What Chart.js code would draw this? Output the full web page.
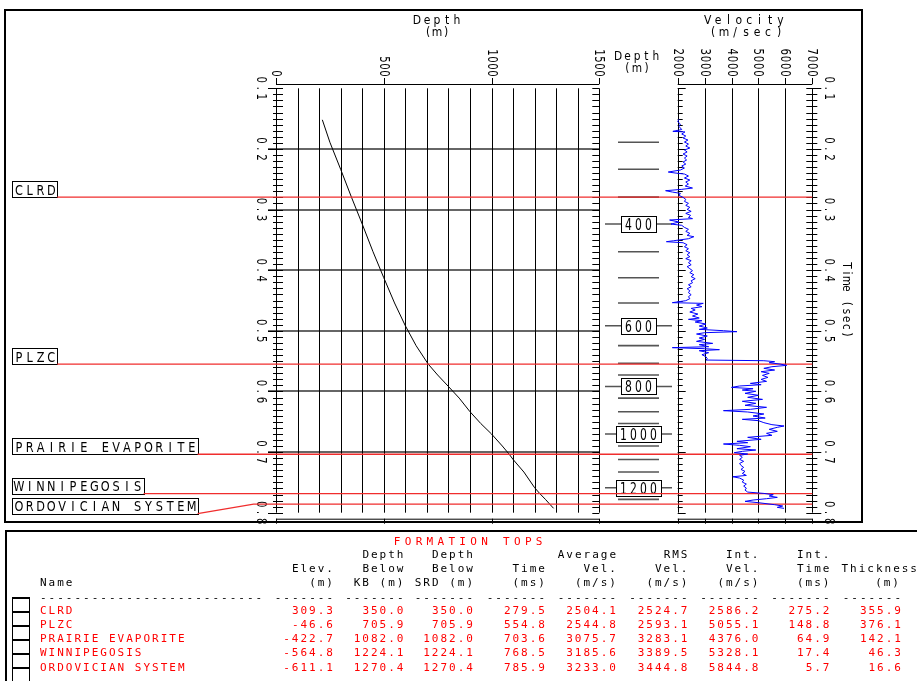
<!DOCTYPE html>
<html>
<head>
<meta charset="utf-8">
<script src="https://cdn.jsdelivr.net/npm/chart.js@4.4.0/dist/chart.umd.min.js"></script>
<style>
html, body { margin: 0; padding: 0; background: #fff; }
#wrap { position: relative; width: 917px; height: 681px; overflow: hidden; background: #fff; }
#wrap canvas { position: absolute; left: 0; top: 0; }
.t { position: absolute; font-family: "DejaVu Sans Mono", monospace; font-size: 11px; line-height: 12px; white-space: pre; }
.box { position: absolute; box-sizing: border-box; border: 1px solid #000; border-top-width: 2px; }
.rule { position: absolute; background: #000; }
</style>
</head>
<body>
<div id="wrap">
  <canvas id="cDepth" width="917" height="681"></canvas>
  <canvas id="cMarks" width="917" height="681"></canvas>
  <canvas id="cVel" width="917" height="681"></canvas>
</div>
<script>
// ---------------- data ----------------
// formation tops
const formationNames = ['CLRD', 'PLZC', 'PRAIRIE EVAPORITE', 'WINNIPEGOSIS', 'ORDOVICIAN SYSTEM'];
const formationElev = [309.3, -46.6, -422.7, -564.8, -611.1];
const formationDepthKB = [350.0, 705.9, 1082.0, 1224.1, 1270.4];
const formationDepthSRD = [350.0, 705.9, 1082.0, 1224.1, 1270.4];
const formationTimeMs = [279.5, 554.8, 703.6, 768.5, 785.9];
const formationAvgVel = [2504.1, 2544.8, 3075.7, 3185.6, 3233.0];
const formationRmsVel = [2524.7, 2593.1, 3283.1, 3389.5, 3444.8];
const formationIntVel = [2586.2, 5055.1, 4376.0, 5328.1, 5844.8];
const formationIntTime = [275.2, 148.8, 64.9, 17.4, 5.7];
const formationThickness = [355.9, 376.1, 142.1, 46.3, 16.6];

// time-depth curve (two-way time in s, depth in m)
const tdTimeSec = [0.1520, 0.1890, 0.2336, 0.2795, 0.3238, 0.3695, 0.4124, 0.4541, 0.4916, 0.5245,
  0.5548, 0.5729, 0.5918, 0.6110, 0.6334, 0.6529, 0.6702, 0.6900, 0.7036, 0.7122,
  0.7329, 0.7588, 0.7685, 0.7780, 0.7859, 0.7928];
const tdDepthM = [215, 250, 300, 350, 400, 450, 500, 550, 600, 650,
  706, 750, 800, 850, 900, 950, 1000, 1050, 1082, 1100,
  1150, 1200, 1224, 1250, 1270, 1288];

// depth marks on the time scale
const markDepthM = [250, 300, 350, 400, 450, 500, 550, 600, 650, 700, 750, 800, 850, 900, 950, 1000, 1050, 1100, 1150, 1200, 1250];
const markTimeSec = [0.1890, 0.2336, 0.2795, 0.3238, 0.3695, 0.4124, 0.4541, 0.4916, 0.5245, 0.5535, 0.5729,
  0.5918, 0.6110, 0.6334, 0.6529, 0.6702, 0.6900, 0.7122, 0.7329, 0.7588, 0.7780];
const labeledMarkDepthM = [400, 600, 800, 1000, 1200];

// interval velocity log (time in ms, velocity in m/s)
const velTimeMs = [151, 155, 159, 163, 168, 171, 172, 175.4, 178.7, 182, 185.3, 188.6, 192, 195.2, 198.5, 201.8, 205, 208.4, 211.7, 215,
  218.3, 221.6, 225, 228.2, 231.5, 234.8, 238.1, 239.7, 241.4, 244.7, 248, 251.3, 254.6, 257.9, 261.2, 264.5, 266.7, 268.9, 271.1, 273.3,
  276.6, 279.9, 283.2, 286.5, 289.8, 293.1, 296.4, 299.7, 303, 306.3, 309.6, 312.9, 315, 317.3, 320.6, 323.9, 326, 329.4, 332.6, 336,
  339.3, 342.6, 344.8, 348.1, 351.4, 353, 354.7, 358, 361.3, 364.6, 367.9, 371.2, 374.5, 377.7, 381, 384.3, 387.6, 391, 394.2, 397.5,
  400.8, 404.1, 407.4, 410.7, 414, 417.4, 420.7, 424, 427.3, 430.6, 433.8, 437.1, 440.4, 443.7, 447, 450.3, 453.6, 454.7, 457.5, 460.2,
  463, 465.7, 469, 472.3, 475.6, 478.9, 481.1, 483.3, 485.5, 488.8, 492.1, 495.4, 497.6, 499.8, 501.4, 503.1, 505.3, 508.6, 511.9, 514.1,
  517.4, 520.7, 522.9, 526.2, 527.8, 529.5, 531.1, 532.8, 536.1, 539.4, 542.7, 546, 548.2, 549.3, 550.9, 552.6, 554.8, 557, 559.2, 561.9,
  564.7, 567.4, 570.2, 573.5, 576.8, 580.1, 583.4, 586.7, 588.9, 591, 593.3, 595.5, 597.7, 599.8, 603.1, 606.4, 609.7, 613.1, 616.3, 619.6,
  622.9, 626.2, 629.5, 631.7, 633.9, 637.2, 640.5, 643.9, 646, 648.2, 651.5, 654.8, 657, 659.2, 662.5, 665.8, 669.1, 672.4, 675.7, 679,
  682.3, 684.5, 686.7, 688.9, 691.1, 694.4, 696.6, 698.8, 701, 703.2, 705.4, 708.7, 712, 715.3, 718.7, 722, 725.3, 728.6, 731.9, 735.2,
  738.5, 740.7, 742.9, 746.2, 749.5, 752.8, 756.1, 759.4, 762.7, 766, 768.2, 770.3, 772.5, 774.7, 776.9, 779.1, 781.3, 783.5, 786.8, 789,
  791.2, 792.8];
const velMps = [2050, 2000, 2100, 2050, 2150, 1820, 2270, 2150, 2300, 2200, 2380, 2250, 2400, 2300, 2450, 2250, 2350, 2200, 2350, 2250,
  2330, 2200, 2300, 2150, 2250, 2100, 1650, 1900, 2250, 2400, 2250, 2450, 2300, 2400, 2280, 2550, 2150, 1550, 1800, 2100,
  2050, 2200, 2300, 2250, 2400, 2300, 2450, 2350, 2500, 2300, 2480, 2400, 2550, 1700, 2050, 1750, 2150, 2250, 2400, 2300,
  2450, 2350, 2600, 2400, 1850, 1580, 2200, 2350, 2250, 2400, 2300, 2450, 2350, 2450, 2300, 2500, 2400, 2500, 2350, 2450,
  2550, 2450, 2600, 2500, 2650, 2500, 2550, 2400, 2500, 2350, 2450, 2400, 2500, 2400, 2450, 2300, 1800, 2950, 2700, 2900,
  2500, 2650, 2450, 2750, 2550, 2800, 2400, 2900, 2650, 3050, 2800, 3100, 2800, 3700, 4200, 3000, 2700, 3100, 2800, 3000,
  2700, 3300, 2800, 3150, 1800, 3000, 3550, 2800, 3150, 2900, 3050, 3100, 3050, 5200, 5600, 5400, 5800, 6050, 5500, 5200,
  5600, 5100, 5400, 5150, 5350, 5100, 5300, 4700, 5100, 4300, 4000, 4800, 4400, 4900, 4500, 5000, 4600, 5150, 4400, 4900,
  4500, 5300, 4700, 3700, 4600, 5200, 4800, 5250, 4400, 5000, 5200, 5500, 5950, 5700, 5400, 5700, 5300, 5500, 4600, 5100,
  4200, 4600, 3700, 4300, 4700, 4200, 4900, 4400, 4100, 4600, 4300, 4400, 4300, 4450, 4300, 4350, 4450, 4350, 4500, 4400,
  4550, 4050, 4300, 4450, 4400, 4550, 4450, 4550, 4500, 4600, 5200, 5550, 5400, 5700, 5300, 4800, 4500, 5000, 5600, 5900,
  5700, 5950];

// axis ticks and labels
const timeTickSec = [0.1, 0.2, 0.3, 0.4, 0.5, 0.6, 0.7, 0.8];
const timeGridSec = [0.2, 0.3, 0.4, 0.5, 0.6, 0.7];
const depthTickM = [0, 500, 1000, 1500];
const velTickMps = [2000, 3000, 4000, 5000, 6000, 7000];

// ---------------- layout ----------------
const W = 917, H = 681;
const PLOT_TOP = 88.3, PLOT_BOTTOM = 512.7;
const DEPTH_L = 276, DEPTH_R = 599.3;
const MARK_L = 605, MARK_R = 672;
const VEL_L = 677.7, VEL_R = 812.3;
const TOP_AXIS_Y = 84, BOTTOM_AXIS_Y = 518.7;
const FAMILY = '"DejaVu Sans", sans-serif';
const RED = 'rgb(240,45,45)';

function pad(left, right) {
  return { left: left, right: W - right, top: PLOT_TOP, bottom: H - PLOT_BOTTOM };
}

function seg(ctx, x1, y1, x2, y2) {
  ctx.beginPath(); ctx.moveTo(x1, y1); ctx.lineTo(x2, y2); ctx.stroke();
}

// narrow text with a fixed character pitch, like a plotter font
function spaced(ctx, s, x, y, pitch, align, size, sx) {
  const total = s.length * pitch;
  const start = align === 'center' ? x - total / 2 : (align === 'right' ? x - total : x);
  ctx.font = size + 'px ' + FAMILY;
  ctx.textAlign = 'center';
  ctx.textBaseline = 'alphabetic';
  const capHalf = size * 0.365;
  for (let i = 0; i < s.length; i++) {
    ctx.save();
    ctx.translate(start + pitch * (i + 0.5), y + capHalf);
    ctx.scale(sx, 1);
    ctx.fillText(s[i], 0, 0);
    ctx.restore();
  }
}
function spacedDown(ctx, s, x, y, pitch, align, size, sx) {
  ctx.save(); ctx.translate(x, y); ctx.rotate(Math.PI / 2);
  spaced(ctx, s, 0, 0, pitch, align, size, sx);
  ctx.restore();
}

function timeTicks(ctx, yScale, fn) {
  for (let i = 10; i <= 80; i++) fn(yScale.getPixelForValue(i / 100), i % 10 === 0);
}

const common = {
  responsive: false, animation: false, devicePixelRatio: 1, events: [],
  plugins: { legend: { display: false }, tooltip: { enabled: false } }
};

// ---------------- depth track ----------------
const depthTrack = {
  id: 'depthTrack',
  beforeDatasetsDraw(chart) {
    const { ctx, chartArea: a, scales: { x, y } } = chart;
    ctx.save();
    // frame of the log panel
    ctx.strokeStyle = '#000'; ctx.lineWidth = 2;
    ctx.strokeRect(5, 10, 857, 512);
    // time gridlines
    ctx.strokeStyle = '#666'; ctx.lineWidth = 2;
    timeGridSec.forEach(t => { const py = Math.round(y.getPixelForValue(t)); seg(ctx, a.left - 8, py, a.right, py); });
    // depth gridlines every 100 m
    ctx.strokeStyle = '#000'; ctx.lineWidth = 1;
    for (let d = 0; d <= 1500; d += 100) {
      const px = Math.round(x.getPixelForValue(d)) + 0.5;
      seg(ctx, px, a.top, px, a.bottom);
    }
    // time ticks on both sides
    timeTicks(ctx, y, (py, major) => {
      const yy = Math.round(py) + 0.5;
      seg(ctx, major ? a.left - 8 : a.left - 3, yy, a.left + 7, yy);
      seg(ctx, a.right - 7, yy, a.right, yy);
    });
    // top and bottom depth axes
    const x0 = x.getPixelForValue(0), x1 = x.getPixelForValue(1500);
    seg(ctx, x0, TOP_AXIS_Y + 0.5, x1, TOP_AXIS_Y + 0.5);
    seg(ctx, x0, BOTTOM_AXIS_Y + 0.5, x1, BOTTOM_AXIS_Y + 0.5);
    ctx.fillStyle = '#000';
    depthTickM.forEach(d => {
      const px = Math.round(x.getPixelForValue(d)) + 0.5;
      seg(ctx, px, TOP_AXIS_Y - 6, px, TOP_AXIS_Y);
      seg(ctx, px, BOTTOM_AXIS_Y, px, BOTTOM_AXIS_Y + 5);
      spacedDown(ctx, String(d), px, TOP_AXIS_Y - 7, 7, 'right', 13.5, 0.75);
    });
    // time labels, left of the track
    timeTickSec.forEach(t => spacedDown(ctx, t.toFixed(1), 262, y.getPixelForValue(t), 8.5, 'center', 13.5, 0.75));
    // titles
    spaced(ctx, 'Depth', 437, 20, 10, 'center', 12, 0.9);
    spaced(ctx, '(m)', 437, 32, 9, 'center', 12, 0.9);
    spaced(ctx, 'Depth', 637, 55, 9.4, 'center', 12.5, 0.85);
    spaced(ctx, '(m)', 637, 67, 9.6, 'center', 12.5, 0.85);
    ctx.restore();
  }
};

new Chart(document.getElementById('cDepth'), {
  type: 'scatter',
  data: {
    datasets: [{
      data: tdDepthM.map((d, i) => ({ x: d, y: tdTimeSec[i] })),
      showLine: true, borderColor: '#000', borderWidth: 1, pointRadius: 0, tension: 0
    }]
  },
  options: Object.assign({}, common, {
    layout: { padding: pad(DEPTH_L, DEPTH_R) },
    scales: {
      x: { type: 'linear', min: 0, max: 1500, display: false },
      y: { type: 'linear', min: 0.1, max: 0.8, reverse: true, display: false }
    }
  }),
  plugins: [depthTrack]
});

// ---------------- depth marks column ----------------
const markBoxes = {
  id: 'markBoxes',
  afterDatasetsDraw(chart) {
    const { ctx, scales: { x, y } } = chart;
    ctx.save();
    const cx = x.getPixelForValue(0);
    markDepthM.forEach((d, i) => {
      if (!labeledMarkDepthM.includes(d)) return;
      const py = y.getPixelForValue(markTimeSec[i]);
      const s = String(d);
      const w = s.length * 10 + 5;
      ctx.fillStyle = '#fff';
      ctx.fillRect(cx - w / 2, py - 8, w, 16);
      ctx.strokeStyle = '#000'; ctx.lineWidth = 1;
      ctx.strokeRect(Math.round(cx - w / 2) + 0.5, Math.round(py - 8) + 0.5, Math.round(w), 16);
      ctx.fillStyle = '#000';
      spaced(ctx, s, cx, py + 0.5, 10, 'center', 15, 0.72);
    });
    ctx.restore();
  }
};

new Chart(document.getElementById('cMarks'), {
  type: 'scatter',
  data: {
    datasets: [
      {
        data: markDepthM.map((d, i) => ({ x: 0, y: markTimeSec[i] })).filter((p, i) => !labeledMarkDepthM.includes(markDepthM[i])),
        pointStyle: 'line', pointRadius: 20.5, pointBorderColor: '#555', pointBorderWidth: 1.6, showLine: false
      },
      {
        data: markDepthM.map((d, i) => ({ x: 0, y: markTimeSec[i] })).filter((p, i) => labeledMarkDepthM.includes(markDepthM[i])),
        pointStyle: 'line', pointRadius: 33.5, pointBorderColor: '#555', pointBorderWidth: 1.6, showLine: false
      }
    ]
  },
  options: Object.assign({}, common, {
    layout: { padding: pad(MARK_L, MARK_R) },
    scales: {
      x: { type: 'linear', min: -1, max: 1, display: false },
      y: { type: 'linear', min: 0.1, max: 0.8, reverse: true, display: false }
    }
  }),
  plugins: [markBoxes]
});

// ---------------- velocity track + formation tops ----------------
const velTrack = {
  id: 'velTrack',
  beforeDatasetsDraw(chart) {
    const { ctx, chartArea: a, scales: { x, y } } = chart;
    ctx.save();
    ctx.strokeStyle = '#000'; ctx.lineWidth = 1; ctx.fillStyle = '#000';
    velTickMps.forEach(v => {
      const px = Math.round(x.getPixelForValue(v)) + 0.5;
      seg(ctx, px, a.top, px, a.bottom);
      seg(ctx, px, TOP_AXIS_Y - 6, px, TOP_AXIS_Y);
      seg(ctx, px, BOTTOM_AXIS_Y, px, BOTTOM_AXIS_Y + 5);
      spacedDown(ctx, String(v), px, TOP_AXIS_Y - 7, 7.2, 'right', 13.5, 0.75);
    });
    seg(ctx, a.left, TOP_AXIS_Y + 0.5, a.right, TOP_AXIS_Y + 0.5);
    seg(ctx, a.left, BOTTOM_AXIS_Y + 0.5, a.right, BOTTOM_AXIS_Y + 0.5);
    timeTicks(ctx, y, (py, major) => {
      const yy = Math.round(py) + 0.5;
      seg(ctx, a.left, yy, a.left + (major ? 8 : 5), yy);
      seg(ctx, a.right - 6, yy, a.right + (major ? 9 : 5), yy);
    });
    timeTickSec.forEach(t => spacedDown(ctx, t.toFixed(1), 830, y.getPixelForValue(t), 8.5, 'center', 13.5, 0.75));
    spacedDown(ctx, 'Time (sec)', 848, 300, 7.7, 'center', 13, 0.8);
    spaced(ctx, 'Velocity', 744, 20, 10.4, 'center', 12, 0.9);
    spaced(ctx, '(m/sec)', 746, 32, 11, 'center', 12, 0.9);

    // formation tops: labelled boxes on the left and red lines across the tracks
    let prevBottom = -1e9;
    formationNames.forEach((name, i) => {
      const ly = y.getPixelForValue(formationTimeMs[i] / 1000);
      let bottom = ly;
      if (bottom - 16 < prevBottom + 4) bottom = prevBottom + 4 + 16;
      const bx = 12, bw = name.length * 10.8 + 2;
      ctx.fillStyle = '#fff';
      ctx.fillRect(bx, bottom - 16, bw, 16);
      ctx.strokeStyle = '#000'; ctx.lineWidth = 1;
      ctx.strokeRect(bx + 0.5, Math.round(bottom - 16) + 0.5, Math.round(bw), 16);
      ctx.fillStyle = '#000';
      spaced(ctx, name, bx + 1.5, bottom - 7.5, 10.8, 'left', 14.5, 0.78);
      ctx.strokeStyle = RED; ctx.lineWidth = 1.3;
      ctx.beginPath();
      ctx.moveTo(bx + bw, bottom);
      if (Math.abs(bottom - ly) > 0.5) ctx.lineTo(bx + bw + 56, ly);
      ctx.lineTo(a.right, ly);
      ctx.stroke();
      prevBottom = bottom;
    });
    ctx.restore();
  }
};

new Chart(document.getElementById('cVel'), {
  type: 'scatter',
  data: {
    datasets: [{
      data: velMps.map((v, i) => ({ x: v, y: velTimeMs[i] / 1000 })),
      showLine: true, borderColor: '#0000ff', borderWidth: 1, pointRadius: 0, tension: 0, clip: false
    }]
  },
  options: Object.assign({}, common, {
    layout: { padding: pad(VEL_L, VEL_R) },
    scales: {
      x: { type: 'linear', min: 2000, max: 7000, display: false },
      y: { type: 'linear', min: 0.1, max: 0.8, reverse: true, display: false }
    }
  }),
  plugins: [velTrack]
});

// ---------------- formation tops table ----------------
const wrap = document.getElementById('wrap');
function rule(x, y, w, h) {
  const d = document.createElement('div');
  d.className = 'rule';
  Object.assign(d.style, { left: x + 'px', top: y + 'px', width: w + 'px', height: h + 'px' });
  wrap.appendChild(d);
}
function text(s, cy, color, opts) {
  const d = document.createElement('div');
  d.className = 't';
  d.textContent = s;
  const sp = opts.spacing === undefined ? 2 : opts.spacing;
  d.style.letterSpacing = sp + 'px';
  d.style.color = color;
  d.style.top = (cy - 6) + 'px';
  if (opts.left !== undefined) d.style.left = opts.left + 'px';
  else if (opts.center !== undefined) { d.style.left = (opts.center - 150) + 'px'; d.style.width = '300px'; d.style.textAlign = 'center'; d.style.paddingLeft = sp + 'px'; }
  else d.style.right = (W - opts.right - sp) + 'px';
  wrap.appendChild(d);
}

rule(5, 530, W - 5, 2);
rule(5, 530, 2, H - 530);

const ROW_Y = [555, 569, 583];
const DASH_Y = 598, DATA_Y0 = 610.7, DATA_DY = 14.2;
text('FORMATION TOPS', 542, '#ff0000', { center: 466, spacing: 4.3 });
text('Name', ROW_Y[2], '#000', { left: 40 });
text('-'.repeat(26), DASH_Y, '#000', { left: 40 });

const columns = [
  { values: formationElev, right: 333, head: ['', 'Elev.', '(m)'] },
  { values: formationDepthKB, right: 403.5, head: ['Depth', 'Below', 'KB (m)'] },
  { values: formationDepthSRD, right: 473, head: ['Depth', 'Below', 'SRD (m)'] },
  { values: formationTimeMs, right: 545, head: ['', 'Time', '(ms)'] },
  { values: formationAvgVel, right: 616, head: ['Average', 'Vel.', '(m/s)'] },
  { values: formationRmsVel, right: 687.5, head: ['RMS', 'Vel.', '(m/s)'] },
  { values: formationIntVel, right: 758.5, head: ['Int.', 'Vel.', '(m/s)'] },
  { values: formationIntTime, right: 829.5, head: ['Int.', 'Time', '(ms)'] },
  { values: formationThickness, right: 901, head: ['', 'Thickness', '(m)'], headRight: [901, 917, 899] }
];
columns.forEach(col => {
  col.head.forEach((h, r) => {
    if (h) text(h, ROW_Y[r], '#000', { right: col.headRight ? col.headRight[r] : col.right });
  });
  text('-------', DASH_Y, '#000', { right: col.right });
  col.values.forEach((v, i) => text(v.toFixed(1), DATA_Y0 + i * DATA_DY, '#ff0000', { right: col.right }));
});
formationNames.forEach((n, i) => text(n, DATA_Y0 + i * DATA_DY, '#ff0000', { left: 40 }));

// selection boxes beside the table rows
for (let i = 0; i < 6; i++) {
  const b = document.createElement('div');
  b.className = 'box';
  Object.assign(b.style, { left: '11.5px', top: (596.5 + i * 14.1) + 'px', width: '18px', height: '15.1px' });
  wrap.appendChild(b);
}
</script>
</body>
</html>
